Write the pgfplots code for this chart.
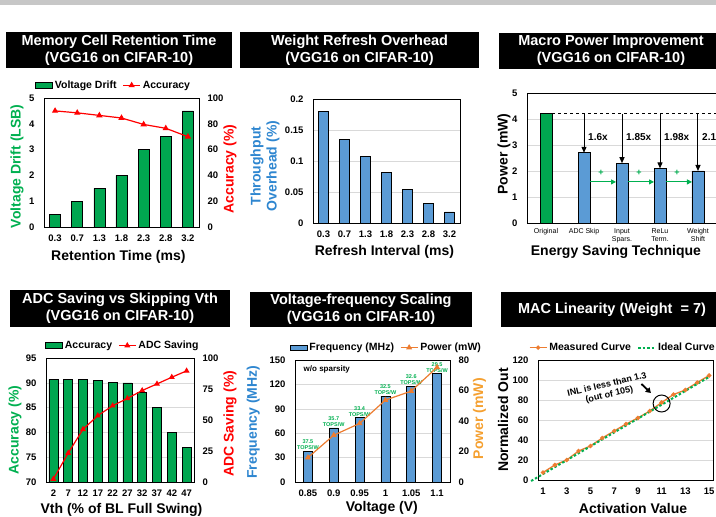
\documentclass[border=0pt]{standalone}
\usepackage{fontspec}
\setmainfont{Liberation Sans}
\usepackage{pgfplots}
\pgfplotsset{compat=1.18}
\usetikzlibrary{arrows.meta}
\definecolor{bargreen}{HTML}{00A650}
\definecolor{txtgreen}{HTML}{00B050}
\definecolor{barblue}{HTML}{5B9BD5}
\definecolor{txtblue}{HTML}{2E86D0}
\definecolor{lineorange}{HTML}{ED7D31}
\definecolor{txtorange}{HTML}{F5A030}
\definecolor{gridgray}{HTML}{D9D9D9}

\newcommand{\tickfont}{\fontsize{9.5}{11}\selectfont\bfseries}
\newcommand{\labfont}{\fontsize{14}{16}\selectfont\bfseries}
\newcommand{\legfont}{\fontsize{10.5}{12}\selectfont\bfseries}
\newcommand{\titfont}{\fontsize{14.5}{17}\selectfont\bfseries}
\newcommand{\multfont}{\fontsize{10}{12}\selectfont\bfseries}

\pgfplotsset{
  panel/.style={
    scale only axis, anchor=south west,
    axis line style={black, line width=0.7pt},
    major tick length=0pt,
    tick label style={font=\tickfont},
    /pgf/number format/assume math mode=true,
    xticklabel style={yshift=-4pt},
    yticklabel style={xshift=-6pt},
    label style={font=\labfont},
    ymajorgrids, grid style={gridgray, line width=0.5pt},
  },
  rightax/.style={
    scale only axis, anchor=south west,
    axis x line=none, axis y line*=right,
    axis line style={draw=none},
    major tick length=0pt,
    tick label style={font=\tickfont},
    /pgf/number format/assume math mode=true,
    yticklabel style={xshift=5pt},
    label style={font=\labfont},
    legend columns=-1,
  },
  leg/.style={legend style={draw=none, fill=none, font=\legfont,
    /tikz/every even column/.append style={column sep=4pt}}},
}

\begin{document}
\begin{tikzpicture}[x=1pt,y=1pt]
\useasboundingbox (0,0) rectangle (716,517);
\clip (0,0) rectangle (716,517);
\fill[white] (0,0) rectangle (716,517);
\fill[black!22] (0,512) rectangle (716,517);

% title boxes
\fill[black] (6,449) rectangle (232,485);
\node[white, align=center, font=\titfont] at (119,467) {Memory Cell Retention Time\\(VGG16 on CIFAR-10)};
\fill[black] (240,449) rectangle (479,485);
\node[white, align=center, font=\titfont] at (359.5,467) {Weight Refresh Overhead\\(VGG16 on CIFAR-10)};
\fill[black] (499,448) rectangle (723,484);
\node[white, align=center, font=\titfont] at (611,466) {Macro Power Improvement\\(VGG16 on CIFAR-10)};
\fill[black] (10,190) rectangle (230,227);
\node[white, align=center, font=\titfont] at (120,208.5) {ADC Saving vs Skipping Vth\\(VGG16 on CIFAR-10)};
\fill[black] (250,190) rectangle (472,225);
\node[white, align=center, font=\titfont] at (361,207.5) {Voltage-frequency Scaling\\(VGG16 on CIFAR-10)};
\fill[black] (501,190) rectangle (723,225);
\node[white, font=\titfont] at (612,207.5) {MAC Linearity (Weight\ \ = 7)};

% ---------- panel 1: retention time
\begin{axis}[panel, at={(44pt,290pt)}, width=155pt, height=129pt,
  xmin=-0.5, xmax=6.5, ymin=0, ymax=5, ytick={0,1,...,5},
  xtick={0,...,6}, xticklabels={0.3,0.7,1.3,1.8,2.3,2.8,3.2},
  ylabel={Voltage Drift (LSB)},
  ylabel style={text=txtgreen, at={(axis description cs:-0.174,0.47)}, anchor=center},
  xlabel={Retention Time (ms)},
  xlabel style={at={(axis description cs:0.48,-0.233)}, anchor=center},
  ymajorgrids=false]
\addplot[ybar, bar width=11pt, fill=bargreen, draw=black, line width=0.6pt]
  coordinates {(0,0.5)(1,1)(2,1.5)(3,2)(4,3)(5,3.5)(6,4.5)};
\end{axis}
\begin{axis}[rightax, leg, at={(44pt,290pt)}, width=155pt, height=129pt,
  xmin=-0.5, xmax=6.5, ymin=0, ymax=100, ytick={0,20,...,100},
  ylabel={Accuracy (\%)},
  ylabel style={text=red, at={(axis description cs:1.2,0.45)}, anchor=center},
  legend style={at={(0.45,1.03)}, anchor=south}]
\addlegendimage{area legend, fill=bargreen, draw=black}
\addlegendentry{Voltage Drift}
\addplot[red, line width=1.2pt, mark=triangle*, mark size=2.5pt]
  coordinates {(0,90)(1,88.5)(2,86.5)(3,84.5)(4,79.5)(5,76.5)(6,70)};
\addlegendentry{Accuracy}
\end{axis}

% ---------- panel 2: refresh overhead
\begin{axis}[panel, at={(313pt,294pt)}, width=147pt, height=124pt,
  xmin=-0.5, xmax=6.5, ymin=0, ymax=0.2,
  ytick={0,0.05,0.1,0.15,0.2}, yticklabels={0,0.05,0.1,0.15,0.2},
  xtick={0,...,6}, xticklabels={0.3,0.7,1.3,1.8,2.3,2.8,3.2},
  ylabel={Throughput\\Overhead (\%)},
  ylabel style={text=txtblue, align=center, at={(axis description cs:-0.327,0.46)}, anchor=center},
  xlabel={Refresh Interval (ms)},
  xlabel style={at={(axis description cs:0.486,-0.234)}, anchor=center}]
\addplot[ybar, bar width=9.5pt, fill=barblue, draw=black, line width=0.6pt]
  coordinates {(0,0.18)(1,0.135)(2,0.108)(3,0.081)(4,0.054)(5,0.031)(6,0.018)};
\end{axis}

% ---------- panel 3: macro power
\begin{axis}[panel, at={(527pt,294pt)}, width=190pt, height=130pt,
  xmin=-0.5, xmax=4.5, ymin=0, ymax=5, ytick={0,1,...,5},
  xtick={0,...,4},
  xticklabels={Original,ADC Skip,Input\\Spars.,ReLu\\Term.,Weight\\Shift},
  xticklabel style={align=center, font=\fontsize{7}{8}\selectfont, yshift=2pt},
  ylabel={Power (mW)},
  ylabel style={at={(axis description cs:-0.121,0.53)}, anchor=center},
  xlabel={Energy Saving Technique},
  xlabel style={at={(axis description cs:0.468,-0.223)}, anchor=center}]
\addplot[ybar, bar width=12pt, fill=bargreen, draw=black, line width=0.6pt]
  coordinates {(0,4.2)};
\addplot[ybar, bar width=12pt, fill=barblue, draw=black, line width=0.6pt]
  coordinates {(1,2.7)(2,2.3)(3,2.1)(4,2.0)};
\draw[dashed, line width=1pt] ([xshift=6pt]axis cs:0,4.2) -- (axis cs:4.5,4.2);
\draw[-{Triangle[length=6pt,width=5pt]}, line width=1pt] (axis cs:1,4.2) -- (axis cs:1,2.7);
\draw[-{Triangle[length=6pt,width=5pt]}, line width=1pt] (axis cs:2,4.2) -- (axis cs:2,2.3);
\draw[-{Triangle[length=6pt,width=5pt]}, line width=1pt] (axis cs:3,4.2) -- (axis cs:3,2.1);
\draw[-{Triangle[length=6pt,width=5pt]}, line width=1pt] (axis cs:4,4.2) -- (axis cs:4,2.0);
\node[anchor=west, font=\multfont, inner sep=0pt] at ([xshift=4pt]axis cs:1,3.3) {1.6x};
\node[anchor=west, font=\multfont, inner sep=0pt] at ([xshift=4pt]axis cs:2,3.3) {1.85x};
\node[anchor=west, font=\multfont, inner sep=0pt] at ([xshift=4pt]axis cs:3,3.3) {1.98x};
\node[anchor=west, font=\multfont, inner sep=0pt] at ([xshift=4pt]axis cs:4,3.3) {2.1x};
\draw[-{Triangle[length=5pt,width=5pt]}, txtgreen, line width=1pt]
  ([xshift=6pt]axis cs:1,1.58) -- ([xshift=-6pt]axis cs:2,1.58);
\draw[-{Triangle[length=5pt,width=5pt]}, txtgreen, line width=1pt]
  ([xshift=6pt]axis cs:2,1.58) -- ([xshift=-6pt]axis cs:3,1.58);
\draw[-{Triangle[length=5pt,width=5pt]}, txtgreen, line width=1pt]
  ([xshift=6pt]axis cs:3,1.58) -- ([xshift=-6pt]axis cs:4,1.58);
\node[txtgreen, font=\fontsize{9}{10}\selectfont\bfseries] at (axis cs:1.45,1.92) {+};
\node[txtgreen, font=\fontsize{9}{10}\selectfont\bfseries] at (axis cs:2.45,1.92) {+};
\node[txtgreen, font=\fontsize{9}{10}\selectfont\bfseries] at (axis cs:3.45,1.92) {+};
\end{axis}

% ---------- panel 4: ADC saving
\begin{axis}[panel, at={(46pt,35pt)}, width=148pt, height=124pt,
  xmin=-0.5, xmax=9.5, ymin=70, ymax=95, ytick={70,75,...,95},
  xtick={0,...,9}, xticklabels={2,7,12,17,22,27,32,37,42,47},
  ylabel={Accuracy (\%)},
  ylabel style={text=txtgreen, at={(axis description cs:-0.21,0.42)}, anchor=center},
  xlabel={Vth (\% of BL Full Swing)},
  xlabel style={at={(axis description cs:0.51,-0.226)}, anchor=center}]
\addplot[ybar, bar width=9pt, fill=bargreen, draw=black, line width=0.6pt]
  coordinates {(0,90.7)(1,90.7)(2,90.7)(3,90.5)(4,90.1)(5,90.0)(6,88)(7,85)(8,80)(9,77)};
\end{axis}
\begin{axis}[rightax, leg, at={(46pt,35pt)}, width=148pt, height=124pt,
  xmin=-0.5, xmax=9.5, ymin=0, ymax=100, ytick={0,25,...,100},
  ylabel={ADC Saving (\%)},
  ylabel style={text=red, at={(axis description cs:1.243,0.47)}, anchor=center},
  legend style={at={(0.52,1.03)}, anchor=south}]
\addlegendimage{area legend, fill=bargreen, draw=black}
\addlegendentry{Accuracy}
\addplot[red, line width=1.2pt, mark=triangle*, mark size=2.3pt]
  coordinates {(0,2.4)(1,23.3)(2,42.5)(3,53.5)(4,61.5)(5,67.4)(6,73.8)(7,79.1)(8,84.5)(9,89.6)};
\addlegendentry{ADC Saving}
\end{axis}

% ---------- panel 5: voltage-frequency
\begin{axis}[panel, at={(295pt,35pt)}, width=155pt, height=122pt,
  xmin=-0.5, xmax=5.5, ymin=0, ymax=150, ytick={0,30,...,150},
  xtick={0,...,5}, xticklabels={0.85,0.9,0.95,1,1.05,1.1},
  ylabel={Frequency (MHz)},
  ylabel style={text=txtblue, at={(axis description cs:-0.27,0.49)}, anchor=center},
  xlabel={Voltage (V)},
  xlabel style={at={(axis description cs:0.56,-0.213)}, anchor=center}]
\addplot[ybar, bar width=9pt, fill=barblue, draw=black, line width=0.6pt,
  point meta=explicit symbolic,
  nodes near coords={\pgfplotspointmeta\\TOPS/W},
  nodes near coords style={align=center, text=txtgreen, inner sep=1pt,
    font=\fontsize{5.5}{6}\selectfont\bfseries}]
  coordinates {(0,38)[37.5] (1,66.5)[35.7] (2,79)[33.4] (3,105.5)[32.5] (4,118)[32.6] (5,133.5)[29.5]};
\node[anchor=west, font=\fontsize{8}{9}\selectfont\bfseries] at (axis cs:-0.3,138) {w/o sparsity};
\end{axis}
\begin{axis}[rightax, leg, at={(295pt,35pt)}, width=155pt, height=122pt,
  xmin=-0.5, xmax=5.5, ymin=0, ymax=80, ytick={0,20,...,80},
  ylabel={Power (mW)},
  ylabel style={text=txtorange, at={(axis description cs:1.19,0.52)}, anchor=center},
  legend style={at={(0.59,1.03)}, anchor=south}]
\addlegendimage{area legend, fill=barblue, draw=black}
\addlegendentry{Frequency (MHz)}
\addplot[lineorange, line width=1.2pt, mark=triangle*, mark size=2.3pt]
  coordinates {(0,16)(1,30.7)(2,38.4)(3,53.7)(4,59.6)(5,75.2)};
\addlegendentry{Power (mW)}
\end{axis}

% ---------- panel 6: MAC linearity
\begin{axis}[panel, leg, at={(538pt,37pt)}, width=175pt, height=120pt,
  xmin=0.58, xmax=15.33, ymin=0, ymax=120, ytick={0,20,...,120},
  xtick={1,3,...,15}, clip=false,
  ylabel={Normalized Out},
  ylabel style={at={(axis description cs:-0.2,0.5)}, anchor=center},
  xlabel={Activation Value},
  xlabel style={at={(axis description cs:0.543,-0.24)}, anchor=center},
  legend columns=-1,
  legend style={at={(-0.07,1.03)}, anchor=south west}]
\addplot[lineorange, line width=1.3pt, mark=*, mark size=1.5pt]
  coordinates {(1,7.5)(2,15)(3,20)(4,29)(5,34)(6,42)(7,49)(8,56)(9,62)(10,69)(11,77.5)(12,85.5)(13,90)(14,97.5)(15,104.5)};
\addlegendentry{Measured Curve}
\addplot[txtgreen, line width=2pt, dash pattern=on 2.5pt off 2pt]
  coordinates {(0,-1)(15,103)};
\addlegendentry{Ideal Curve}
\draw[black, line width=1pt] (axis cs:11,76.5) circle (8.5pt);
\node[rotate=13, align=center, font=\fontsize{9}{10.5}\selectfont\bfseries]
  at (axis cs:6.5,90) {INL is less than 1.3\\(out of 105)};
\draw[-{Triangle[length=5pt,width=6pt]}, line width=1.8pt] (axis cs:9.3,96) -- (axis cs:10.1,87);
\end{axis}
\end{tikzpicture}
\end{document}
